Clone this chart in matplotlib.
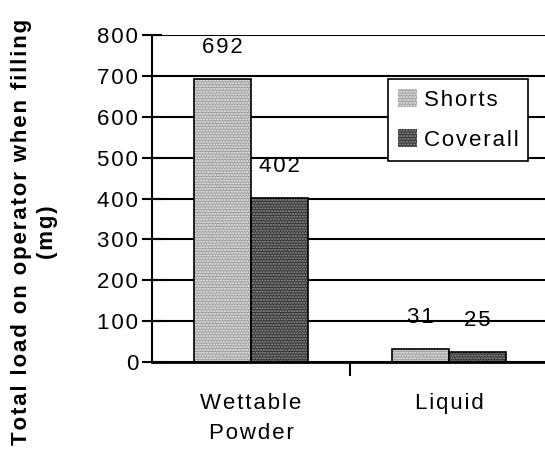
import numpy as np
import matplotlib.pyplot as plt

plt.rcParams['font.family'] = ['Liberation Sans', 'DejaVu Sans']
plt.rcParams['hatch.linewidth'] = 1.0

# Load on operator during filling, by formulation and clothing
formulations = ['Wettable\nPowder', 'Liquid']
series = ['Shorts', 'Coverall']
shorts = [692, 31]
coverall = [402, 25]
yticks = list(range(0, 801, 100))


def track(s):
    # widen letter spacing with hair spaces between characters
    return '\n'.join('\u200a'.join(line) for line in s.split('\n'))


fig = plt.figure(figsize=(5.45, 4.61), dpi=100)
# axes in pixel terms: left 152, right 548, bottom 362, top 35
ax = fig.add_axes([152 / 545, 1 - 362 / 461, 396 / 545, 327 / 461])

x = np.arange(len(formulations))
w = 0.29

styles = [('#a0a0a0', '#f0f0f0'), ('#343434', '#999999')]
handles = []
for i, (vals, name) in enumerate(zip([shorts, coverall], series)):
    face, dots = styles[i]
    pos = x + (i - 0.5) * w
    ax.bar(pos, vals, w, color=face, edgecolor=dots, hatch='......',
           linewidth=0, zorder=3)
    ax.bar(pos, vals, w, facecolor='none', edgecolor='black',
           linewidth=1.2, zorder=4)
    for p, v in zip(pos, vals):
        ax.annotate(track(str(v)), (p, v), xytext=(0, 15),
                    textcoords='offset points', ha='center', va='bottom',
                    fontsize=16, zorder=5)
    h = plt.Rectangle((0, 0), 1, 1, facecolor=face, edgecolor=dots,
                      hatch='......', linewidth=0)
    handles.append(h)

ax.set_xlim(-0.5, 1.5)
ax.set_ylim(0, 800)
ax.set_yticks(yticks)
ax.set_yticklabels([track(str(t)) for t in yticks])
ax.yaxis.grid(True, color='black', linewidth=1.5, zorder=0)
ax.set_axisbelow(True)

for s in ['top', 'right']:
    ax.spines[s].set_visible(False)
ax.spines['left'].set_linewidth(1.5)
ax.spines['bottom'].set_linewidth(2)
ax.spines['bottom'].set_zorder(6)

ax.tick_params(axis='y', direction='inout', length=14, width=1.5,
               labelsize=16, pad=3)
ax.set_xticks([0.5, 1.5])
ax.set_xticks([0, 1], minor=True)
ax.set_xticklabels([])
ax.set_xticklabels([track(f) for f in formulations], minor=True,
                   fontsize=16, linespacing=1.6)
ax.tick_params(axis='x', which='major', direction='out', length=10, width=1.5)
ax.tick_params(axis='x', which='minor', length=0, pad=22)
for lbl in ax.get_xticklabels(minor=True):
    lbl.set_va('top')

ax.set_ylabel(track('Total load on operator when filling') + '\n' + track('(mg)'),
              fontsize=16, fontweight='bold', linespacing=1.3)
ax.yaxis.set_label_coords((58 - 152) / 396, (362 - 232) / 327)

leg = ax.legend(handles, [track(s) for s in series], loc='upper left',
                bbox_to_anchor=((388 - 152) / 396, (362 - 79) / 327),
                fontsize=16, frameon=True, fancybox=False, edgecolor='black',
                framealpha=1, handlelength=0.85, handleheight=0.85,
                handletextpad=0.3, borderpad=0.45, labelspacing=0.85,
                borderaxespad=0)
leg.get_frame().set_linewidth(1.2)
leg.set_zorder(7)

fig.savefig('out.png', dpi=100)
